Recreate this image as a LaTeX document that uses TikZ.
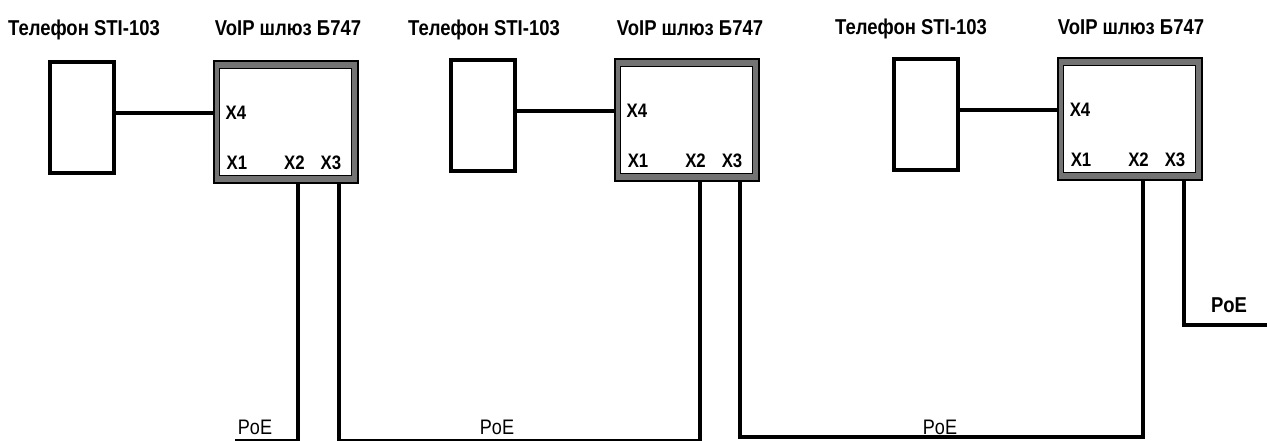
\documentclass[tikz,border=0pt]{standalone}
\usepackage{fontspec}
\setmainfont{Liberation Sans}[FakeStretch=0.86]
\usetikzlibrary{positioning}

\begin{document}
\begin{tikzpicture}[x=1pt, y=-1pt, line join=miter]
    \tikzstyle{phone_style} = [rectangle, draw=black, line width=4pt, minimum width=64pt, minimum height=111pt, inner sep=0]
    \tikzstyle{gate_style} = [rectangle, draw=black, fill=black!55, line width=2pt, minimum width=144pt, minimum height=122pt, inner sep=0]
    \tikzstyle{panel_style} = [rectangle, draw=black, fill=white, line width=1pt, minimum width=132pt, minimum height=107pt, inner sep=0]
    \tikzstyle{title_style} = [font=\fontsize{21.5}{23}\selectfont\bfseries, inner sep=0, anchor=base]
    \tikzstyle{port_style} = [font=\fontsize{19.5}{21}\selectfont\bfseries, inner sep=0]
    \tikzstyle{poe_style} = [font=\fontsize{21}{23}\selectfont, inner sep=0]
    \tikzstyle{wire_style} = [draw=black, line width=4pt]
    \useasboundingbox (0,0) rectangle (1267,440);

    % unit 1
    \node[title_style] (n1) at (84,35.5) {Телефон STI-103};
    \node[title_style] (m1) at (288,35.5) {VoIP шлюз Б747};
    \node[phone_style] (t1) at (82,117.5) {};
    \node[gate_style] (g1) at (286,122) {};
    \node[panel_style] (p1) at (285.5,122) {};
    \node[port_style] (x4a) at (236,112.5) {X4};
    \node[port_style] (x1a) at (237,162.5) {X1};
    \node[port_style] (x2a) at (294.5,162.5) {X2};
    \node[port_style] (x3a) at (331,162.5) {X3};

    % unit 2
    \node[title_style] (n2) at (484,35) {Телефон STI-103};
    \node[title_style] (m2) at (690,35) {VoIP шлюз Б747};
    \node[phone_style] (t2) at (483,115.5) {};
    \node[gate_style] (g2) at (687,120) {};
    \node[panel_style] (p2) at (686.5,120) {};
    \node[port_style] (x4b) at (637,110.5) {X4};
    \node[port_style] (x1b) at (638,160.5) {X1};
    \node[port_style] (x2b) at (695.5,160.5) {X2};
    \node[port_style] (x3b) at (732,160.5) {X3};

    % unit 3
    \node[title_style] (n3) at (911,34) {Телефон STI-103};
    \node[title_style] (m3) at (1131,34) {VoIP шлюз Б747};
    \node[phone_style] (t3) at (925.5,114.5) {};
    \node[gate_style] (g3) at (1130,119) {};
    \node[panel_style] (p3) at (1129.5,119) {};
    \node[port_style] (x4c) at (1080,109.5) {X4};
    \node[port_style] (x1c) at (1081,159.5) {X1};
    \node[port_style] (x2c) at (1138.5,159.5) {X2};
    \node[port_style] (x3c) at (1175,159.5) {X3};

    % PoE feeds
    \node[poe_style] (poe1) at (255,427) {PoE};
    \node[poe_style] (poe2) at (497,427) {PoE};
    \node[poe_style] (poe3) at (940,427) {PoE};
    \node[title_style] (poe4) at (1229,312) {PoE};

    \coordinate (g1x2) at (298,183);
    \coordinate (g1x3) at (339,183);
    \coordinate (g2x2) at (700,181);
    \coordinate (g2x3) at (740,181);
    \coordinate (g3x2) at (1143,180);
    \coordinate (g3x3) at (1184,180);
    \coordinate (feed1) at (235,441);
    \coordinate (bus1) at (0,441);
    \coordinate (bus2) at (0,436.5);
    \coordinate (feed4) at (1267,325);

    \draw[wire_style] (t1.east |- x4a) -- (g1.west |- x4a);
    \draw[wire_style] (t2.east |- x4b) -- (g2.west |- x4b);
    \draw[wire_style] (t3.east |- x4c) -- (g3.west |- x4c);

    \draw[wire_style] (g1x2) |- (feed1);
    \draw[wire_style] (g1x3) -- (g1x3 |- bus1) -| (g2x2);
    \draw[wire_style] (g2x3) -- (g2x3 |- bus2) -| (g3x2);
    \draw[wire_style] (g3x3) |- (feed4);
\end{tikzpicture}
\end{document}
